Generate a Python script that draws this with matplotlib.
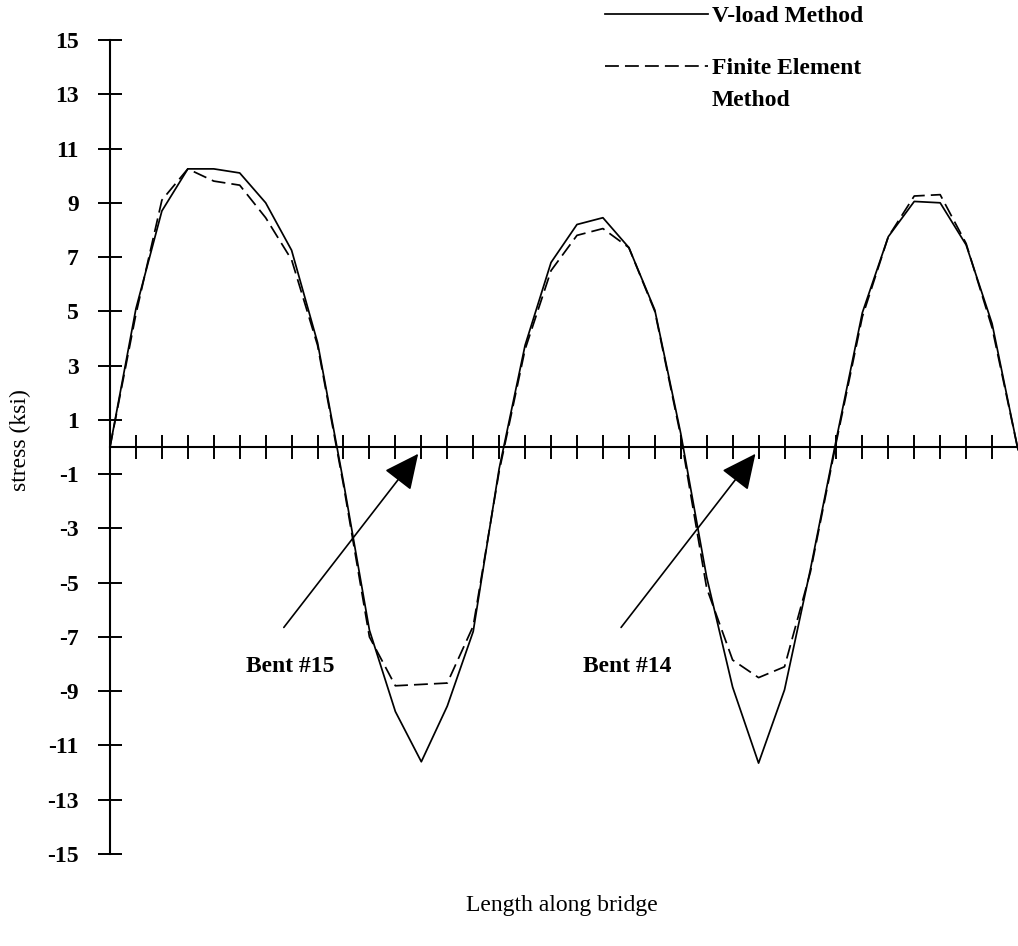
import numpy as np
import matplotlib
matplotlib.use('Agg')
import matplotlib.pyplot as plt

plt.rcParams['font.family'] = ['Liberation Serif', 'DejaVu Serif']

# stress along the bridge, one value per station
station = np.arange(0, 36)
vload = [0, 5.1, 8.7, 10.25, 10.25, 10.1, 9.0, 7.25, 3.85, -1.3,
         -6.75, -9.75, -11.6, -9.55, -6.8, -0.8, 3.75, 6.8, 8.2, 8.45,
         7.35, 5.05, 0.5, -4.8, -8.85, -11.65, -8.95, -4.5, 0.3, 4.95,
         7.75, 9.05, 9.0, 7.45, 4.55, -0.1]
fem = [0, 4.9, 9.1, 10.25, 9.8, 9.65, 8.45, 6.9, 3.75, -1.4,
       -7.0, -8.8, -8.75, -8.7, -6.6, -0.9, 3.6, 6.5, 7.8, 8.05,
       7.35, 5.0, 0.4, -5.2, -7.85, -8.5, -8.1, -4.6, 0.2, 4.8,
       7.75, 9.25, 9.3, 7.5, 4.4, -0.1]
yticks = list(range(-15, 16, 2))
bents = ['Bent #15', 'Bent #14']
bent_at = [12, 25]

fig = plt.figure(figsize=(10.18, 9.46), dpi=100)
ax = fig.add_axes([110/1018, 92/946, 908/1018, 814/946])

l1, = ax.plot(station, vload, color='black', lw=1.25)
l2, = ax.plot(station, fem, color='black', lw=1.25, dashes=(8, 3.5))

ax.set_xlim(0, 35)
ax.set_ylim(-15, 15)

for s in ['top', 'right']:
    ax.spines[s].set_visible(False)
ax.spines['bottom'].set_position(('data', 0))
ax.spines['left'].set_linewidth(1.5)
ax.spines['bottom'].set_linewidth(1.5)

ax.set_yticks(yticks)
ax.set_yticklabels([str(v) for v in yticks], fontsize=17, fontweight='bold')
ax.set_xticks(station[1:35])
ax.set_xticklabels([])
ax.tick_params(axis='both', direction='inout', length=17, width=1.4)
ax.tick_params(axis='y', pad=14)

# arrows pointing at the bents
for name, b in zip(bents, bent_at):
    ax.annotate('', xy=(b - 0.12, -0.25), xytext=(b - 5.3, -6.65),
                arrowprops=dict(arrowstyle='-|>,head_length=0.42,head_width=0.2',
                                mutation_scale=52, lw=1.2, color='black',
                                shrinkA=0, shrinkB=0))
    ax.text(b - 6.75, -8.1, name, fontsize=17, fontweight='bold',
            ha='left', va='center')

leg = fig.legend([l1, l2], ['V-load Method', 'Finite Element'],
                 loc='upper left', bbox_to_anchor=(0.5732, 1.0166),
                 frameon=False, handlelength=4.36, handletextpad=0.17,
                 labelspacing=1.3, prop=dict(size=17, weight='bold'))
fig.text(712/1018, 1 - 101/946, 'Method', fontsize=17, fontweight='bold',
         ha='left', va='center')

fig.text(20/1018, 1 - 440/946, 'stress (ksi)', rotation=90, fontsize=17,
         ha='center', va='center')
fig.text(562/1018, 1 - 905/946, 'Length along bridge', fontsize=17,
         ha='center', va='center')

fig.savefig('out.png', dpi=100)
